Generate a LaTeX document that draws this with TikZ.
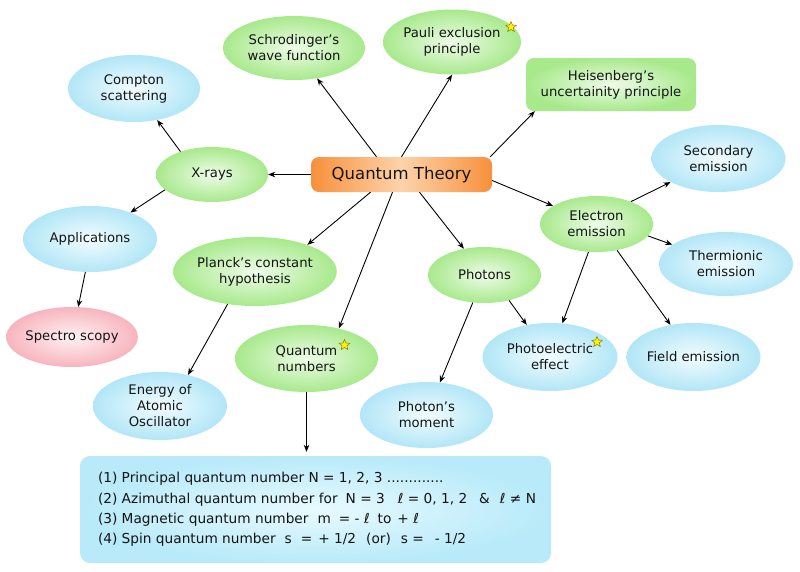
\documentclass[tikz,border=0pt]{standalone}
\usepackage{fontspec}
\setmainfont{DejaVu Sans}
\usetikzlibrary{shapes.geometric,arrows.meta,calc}
\definecolor{gin}{HTML}{EEFCE8}
\definecolor{gout}{HTML}{A8E98C}
\definecolor{bin}{HTML}{F2FCFF}
\definecolor{bout}{HTML}{B2E6F7}
\definecolor{boxin}{HTML}{E8FAFF}
\definecolor{boxout}{HTML}{B8EAF9}
\definecolor{pin}{HTML}{FFF2F3}
\definecolor{pout}{HTML}{F8B4BE}
\definecolor{oedge}{HTML}{F8903C}
\definecolor{omid}{HTML}{FDD3AA}
\definecolor{txt}{HTML}{141414}
\definecolor{starline}{HTML}{8A7A00}
\tikzset{
  lbl/.style={font=\fontsize{13.2}{16}\selectfont, align=center, inner sep=0pt, text=txt},
  gell/.style={lbl, ellipse, inner color=gin, outer color=gout},
  bell/.style={lbl, ellipse, inner color=bin, outer color=bout},
  pell/.style={lbl, ellipse, inner color=pin, outer color=pout},
  gbox/.style={lbl, rectangle, rounded corners=8pt, inner color=gin, outer color=gout},
  qtbox/.style={rectangle, rounded corners=8pt, inner sep=0pt, text=txt,
     font=\fontsize{16.5}{20}\selectfont, left color=oedge, right color=oedge, middle color=omid},
  infobox/.style={rectangle, rounded corners=10pt, inner color=boxin, outer color=boxout, inner sep=0pt},
  infotext/.style={font=\fontsize{13.7}{20.3}\selectfont, text=txt, align=left, inner sep=0pt, anchor=west},
  starmark/.style={star, star points=5, star point ratio=2.2, minimum size=11pt, inner sep=0pt,
     fill=yellow, draw=starline, line width=0.5pt},
  arr/.style={-{Stealth[length=7pt,width=5.5pt]}, line width=0.9pt, draw=black},
}
\begin{document}
\begin{tikzpicture}[x=1pt,y=-1pt]
\useasboundingbox (0,0) rectangle (800,571);
\fill[white] (0,0) rectangle (800,571);

\node[qtbox, minimum width=181pt, minimum height=35pt] (qt) at (401.5,174.5) {Quantum Theory};

\node[gell, minimum width=142pt, minimum height=64pt] (sch) at (294,48) {Schrodinger’s\\wave function};
\node[gell, minimum width=138pt, minimum height=65pt] (pauli) at (452,42) {Pauli exclusion\\principle};
\node[gbox, minimum width=170pt, minimum height=53pt] (heis) at (611,84.5) {Heisenberg’s\\uncertainity principle};
\node[bell, minimum width=132pt, minimum height=67pt] (compton) at (134,88.5) {Compton\\scattering};
\node[gell, minimum width=112pt, minimum height=55pt] (xr) at (212,174.5) {X-rays};
\node[bell, minimum width=134pt, minimum height=66pt] (app) at (90,239) {Applications};
\node[pell, minimum width=131pt, minimum height=60pt] (spec) at (72,337) {Spectro scopy};
\node[gell, minimum width=144pt, minimum height=69pt] (planck) at (255,271.5) {Planck’s constant\\hypothesis};
\node[gell, minimum width=143pt, minimum height=67pt] (qn) at (306.5,358.5) {Quantum\\numbers};
\node[bell, minimum width=134pt, minimum height=68pt] (energy) at (160,406) {Energy of\\Atomic\\Oscillator};
\node[gell, minimum width=113pt, minimum height=56pt] (photons) at (484.5,275) {Photons};
\node[bell, minimum width=133pt, minimum height=66pt] (pm) at (426.5,415) {Photon’s\\moment};
\node[gell, minimum width=113pt, minimum height=56pt] (ee) at (596.5,224) {Electron\\emission};
\node[bell, minimum width=134pt, minimum height=67pt] (sec) at (718.5,158.5) {Secondary\\emission};
\node[bell, minimum width=134pt, minimum height=64pt] (therm) at (726,264) {Thermionic\\emission};
\node[bell, minimum width=135pt, minimum height=68pt] (pe) at (550,357) {Photoelectric\\effect};
\node[bell, minimum width=134pt, minimum height=68pt] (field) at (693.5,357) {Field emission};

\node[starmark] (s1) at ($(pauli.center)+(59,-15)$) {};
\node[starmark] (s2) at ($(qn.center)+(38,-13.5)$) {};
\node[starmark] (s3) at ($(pe.center)+(47,-15)$) {};

\node[infobox, minimum width=471pt, minimum height=107pt] (box) at (315.5,509.5) {};
\node[infotext] (boxtext) at ($(box.west)+(18,0)$) {%
(1) Principal quantum number N = 1, 2, 3 .............\\
(2) Azimuthal quantum number for\hspace{8pt}N = 3\hspace{13pt}ℓ = 0, 1, 2\hspace{12pt}\&\hspace{10pt}ℓ ≠ N\\
(3) Magnetic quantum number\hspace{9pt}m\hspace{8pt}= - ℓ\hspace{8pt}to\hspace{6pt}+ ℓ\\
(4) Spin quantum number\hspace{9pt}s\hspace{9pt}=\hspace{6pt}+ 1/2\hspace{10pt}(or)\hspace{10pt}s =\hspace{11pt}- 1/2};

% connectors
\draw[arr] (qt.west) -- (xr.east);
\draw[arr] ([xshift=-25pt]qt.north) -- (sch);
\draw[arr] (qt.north) -- (pauli.south);
\draw[arr] ([xshift=-2pt]qt.north east) -- ([xshift=9pt]heis.south west);
\draw[arr] ([yshift=-6pt]qt.east) -- (ee);
\draw[arr] ([xshift=-31pt]qt.south) -- (planck.27);
\draw[arr] ([xshift=-9pt]qt.south) -- (qn.43);
\draw[arr] ([xshift=18pt]qt.south) -- (photons);
\draw[arr] (xr.144) -- (compton);
\draw[arr] (xr.198) -- (app);
\draw[arr] (app.262) -- (spec);
\draw[arr] (planck.230) -- (energy.48);
\draw[arr] (photons.247) -- (pm);
\draw[arr] (photons.-46) -- (pe);
\draw[arr] (ee.33) -- (sec);
\draw[arr] (ee.-13) -- (therm);
\draw[arr] (ee.254) -- (pe);
\draw[arr] (ee.-52) -- (field);
\draw[arr] (qn.south) -- ([yshift=4pt]qn.south |- box.north);
\end{tikzpicture}
\end{document}
